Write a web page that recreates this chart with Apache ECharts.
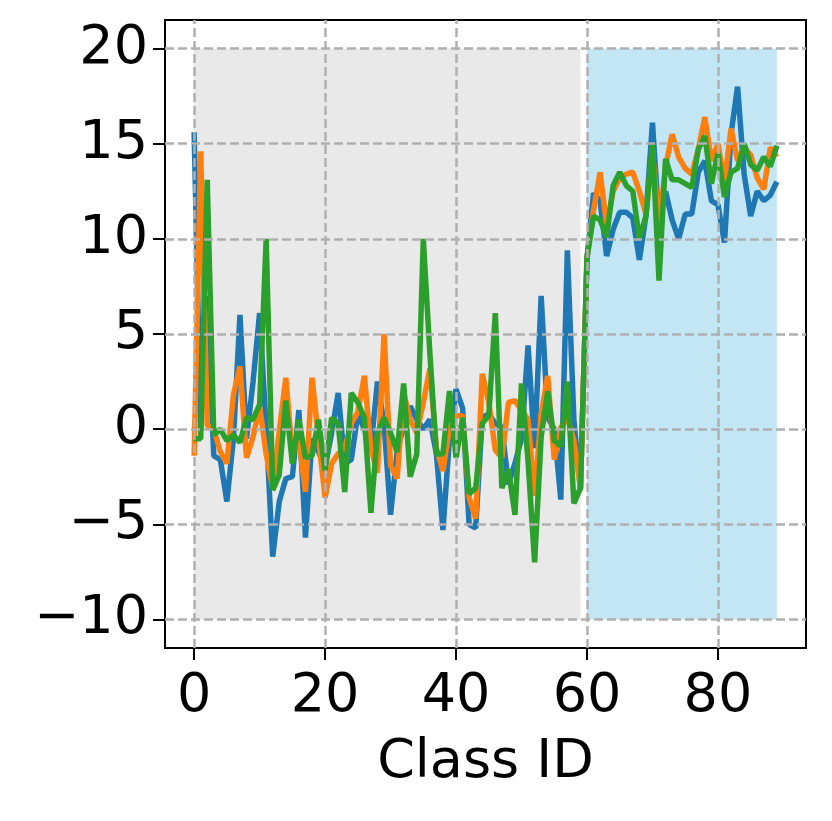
<!DOCTYPE html>
<html>
<head>
<meta charset="utf-8">
<script src="https://cdn.jsdelivr.net/npm/echarts@6/dist/echarts.min.js"></script>
<style>
  html, body { margin: 0; padding: 0; background: #fff; }
  #chart { width: 832px; height: 821px; }
</style>
</head>
<body>
<div id="chart"></div>
<script>
// values
const blueVals = [
  15.6, 0.0, 7.0, -1.4, -1.6, -3.8, -0.5, 6.0, -0.5, 2.5,
  6.1, 0.0, -6.7, -3.8, -2.6, -2.5, 1.0, -5.7, -0.5, -1.2,
  -2.0, -0.2, 1.9, -1.8, -1.6, 0.8, 0.0, -1.0, 2.5, 0.3,
  -4.5, -1.2, 0.2, 1.2, 0.5, 0.0, 0.5, -1.3, -5.3, -0.5,
  2.1, 1.1, -5.0, -5.2, 0.6, 0.8, 0.3, 0.1, -2.9, -1.8,
  -0.5, 4.4, -1.0, 7.0, 0.6, 0.0, -3.7, 9.4, 0.5, -3.2,
  9.0, 12.4, 12.0, 9.1, 10.5, 11.4, 11.4, 11.1, 8.9, 11.2,
  16.1, 10.8, 12.5, 11.0, 10.0, 11.3, 11.3, 13.5, 14.1, 12.0,
  11.8, 9.8, 15.5, 18.0, 13.4, 11.2, 12.5, 12.0, 12.3, 13.0
];
const orangeVals = [
  -1.4, 14.6, 0.2, 0.0, -1.2, -1.8, 1.8, 3.3, -1.5, -0.4,
  1.2, -1.3, -3.1, -0.1, 2.7, -1.3, -0.6, -3.3, 2.7, -0.5,
  -3.6, -1.8, -1.3, -1.0, 0.3, 0.9, 2.8, -1.0, -2.3, 5.0,
  -1.9, -2.6, 1.9, 0.5, -0.2, 1.4, 3.2, -1.0, -2.2, 0.1,
  0.7, 0.7, -3.6, -4.7, 2.9, 1.4, -1.1, -1.5, 1.4, 1.5,
  1.0, 0.5, -3.5, 0.8, 2.8, -1.6, 0.1, 0.6, -0.6, -3.1,
  9.0, 11.5, 13.5, 10.7, 12.5, 13.2, 13.4, 13.5, 12.5, 11.3,
  14.6, 10.7, 13.8, 15.5, 14.3, 13.7, 13.4, 14.7, 16.4, 14.1,
  15.0, 13.0, 15.8, 14.1, 14.8, 14.4, 13.2, 12.6, 14.8, 14.3
];
const greenVals = [
  -0.5, -0.5, 13.1, -0.3, 0.0, -0.6, -0.3, -0.7, 0.6, 0.5,
  1.3, 10.0, -3.2, -2.4, 1.5, -1.8, 0.5, -1.5, -1.4, 0.5,
  -2.2, 0.6, 0.3, -3.3, 1.9, 1.4, 0.6, -4.4, -0.2, 0.6,
  -0.2, -1.2, 2.4, -2.5, -1.3, 10.0, 4.0, -1.3, -1.3, 2.0,
  -1.5, 0.6, -3.4, -3.1, 0.3, 0.7, 6.1, -3.1, -2.1, -4.5,
  2.4, -1.7, -7.0, -0.4, 2.0, -0.6, -0.9, 2.5, -3.9, -3.1,
  9.0, 11.2, 11.0, 10.1, 12.8, 13.5, 12.8, 12.5, 10.0, 11.2,
  15.0, 7.8, 14.2, 13.1, 13.1, 12.9, 12.7, 14.7, 15.4, 12.9,
  14.5, 12.2, 13.5, 13.7, 15.0, 13.9, 13.6, 14.3, 13.8, 14.9
];
const classIds = blueVals.map((v, i) => i);

const xTicks = [0, 20, 40, 60, 80];
const yTicks = [-10, -5, 0, 5, 10, 15, 20];
const graySpan = [0, 59];
const blueSpan = [60, 89];
const spanY = [-10, 20];

const fontFamily = 'DejaVu Sans';
const fontSize = 54;
const gridLine = { color: '#b0b0b0', width: 2.5, type: [9, 4] };

function pairs (vals) {
  return vals.map((v, i) => [classIds[i], v]);
}

let chart = echarts.init(document.getElementById('chart'), null, { renderer: 'canvas' });
let option = {
  animation: false,
  backgroundColor: '#fff',
  grid: {
    left: 165,
    right: 26,
    top: 20,
    bottom: 173,
    show: true,
    borderColor: '#000',
    borderWidth: 2,
    backgroundColor: 'transparent'
  },
  xAxis: {
    type: 'value',
    min: -4.45,
    max: 93.45,
    name: 'Class ID',
    nameLocation: 'middle',
    nameGap: 88,
    nameTextStyle: { fontFamily: fontFamily, fontSize: fontSize, color: '#000' },
    axisLine: { show: true, onZero: false, lineStyle: { color: '#000', width: 2 } },
    axisTick: { show: true, length: 12, lineStyle: { color: '#000', width: 2 }, customValues: xTicks },
    axisLabel: { show: true, margin: 22, fontFamily: fontFamily, fontSize: fontSize, color: '#000', customValues: xTicks },
    splitLine: { show: false }
  },
  yAxis: {
    type: 'value',
    min: -11.5,
    max: 21.5,
    axisLine: { show: true, onZero: false, lineStyle: { color: '#000', width: 2 } },
    axisTick: { show: true, length: 12, lineStyle: { color: '#000', width: 2 }, customValues: yTicks },
    axisLabel: {
      show: true,
      margin: 17,
      fontFamily: fontFamily,
      fontSize: fontSize,
      color: '#000',
      customValues: yTicks,
      formatter: function (value) {
        return String(value).replace('-', '\u2212');
      }
    },
    splitLine: { show: false }
  },
  series: [{
    // shaded spans
    type: 'line',
    data: [],
    z: 1,
    silent: true,
    markArea: {
      silent: true,
      data: [
        [{ xAxis: graySpan[0], yAxis: spanY[0], itemStyle: { color: 'rgba(211,211,211,0.5)' } },
         { xAxis: graySpan[1], yAxis: spanY[1] }],
        [{ xAxis: blueSpan[0], yAxis: spanY[0], itemStyle: { color: 'rgba(135,206,235,0.5)' } },
         { xAxis: blueSpan[1], yAxis: spanY[1] }]
      ]
    }
  }, {
    // dashed grid
    type: 'line',
    data: [],
    z: 2,
    silent: true,
    markLine: {
      silent: true,
      symbol: ['none', 'none'],
      label: { show: false },
      lineStyle: gridLine,
      data: xTicks.map(v => ({ xAxis: v })).concat(yTicks.map(v => ({ yAxis: v })))
    }
  }, {
    type: 'line',
    data: pairs(blueVals),
    showSymbol: false,
    z: 3,
    lineStyle: { color: '#1f77b4', width: 5.5 },
    itemStyle: { color: '#1f77b4' }
  }, {
    type: 'line',
    data: pairs(orangeVals),
    showSymbol: false,
    z: 3,
    lineStyle: { color: '#ff7f0e', width: 5.5 },
    itemStyle: { color: '#ff7f0e' }
  }, {
    type: 'line',
    data: pairs(greenVals),
    showSymbol: false,
    z: 3,
    lineStyle: { color: '#2ca02c', width: 5.5 },
    itemStyle: { color: '#2ca02c' }
  }]
};
chart.setOption(option);
</script>
</body>
</html>
